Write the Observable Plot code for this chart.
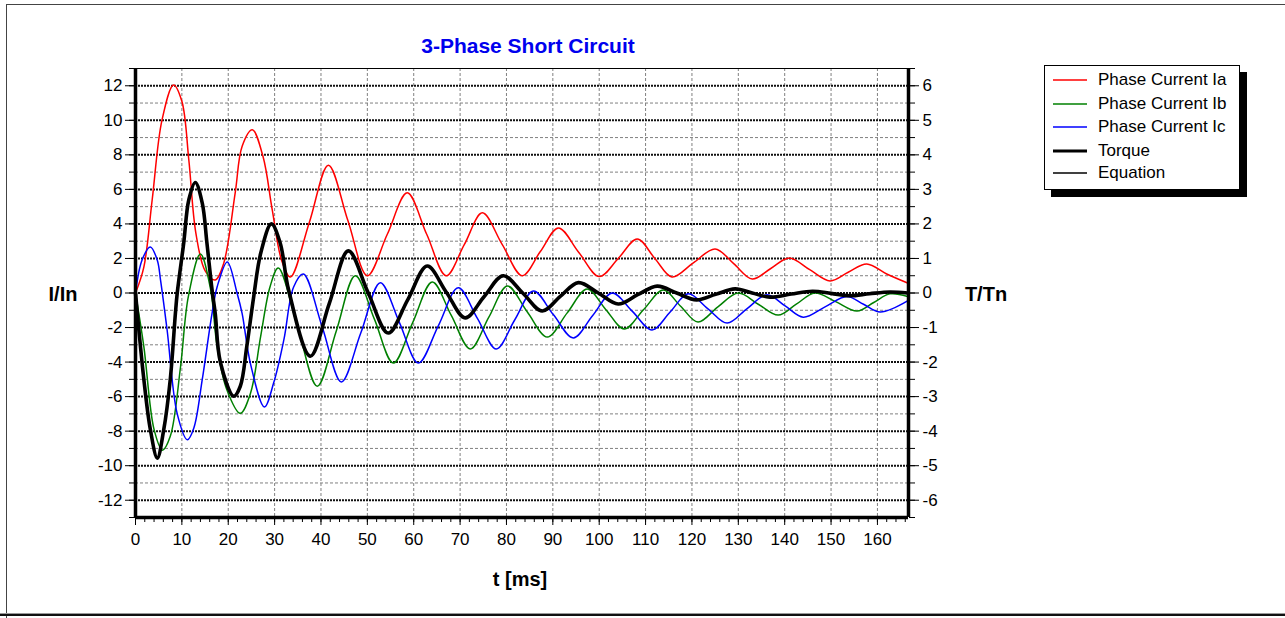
<!DOCTYPE html>
<html>
<head>
<meta charset="utf-8">
<script src="https://cdn.jsdelivr.net/npm/d3@7"></script>
<script src="https://cdn.jsdelivr.net/npm/@observablehq/plot@0.6"></script>
<style>
  html, body { margin: 0; padding: 0; background: #fff; }
  #wrap { position: relative; width: 1285px; height: 618px; overflow: hidden; font-family: "Liberation Sans", Arial, sans-serif; }
  #wrap > svg { position: absolute; left: 0; top: 0; }
  .lbl { position: absolute; font-weight: bold; color: #000; white-space: nowrap; transform: translate(-50%, -50%); }
  #title { color: #0000ee; font-size: 21px; }
  .ax { font-size: 20px; }
  #legend { position: absolute; left: 1044px; top: 65px; width: 194px; height: 123px; border: 1px solid #000; background: #fff; box-shadow: 7px 7px 0 #000; font-size: 17px; }
  #legend .row { position: absolute; left: 0; height: 20px; display: flex; align-items: center; white-space: nowrap; }
  #legend .row svg { display: block; margin-left: 8px; margin-right: 11px; }
  #frame { position: absolute; left: 6px; top: 4px; width: 1290px; height: 700px; border-left: 1px solid #444; border-top: 1px solid #444; }
  #bline1 { position: absolute; left: 0; top: 613px; width: 1285px; height: 1px; background: #999; }
  #bline2 { position: absolute; left: 0; top: 614px; width: 1285px; height: 2px; background: #111; }
</style>
</head>
<body>
<div id="wrap">
  <div id="frame"></div>
  <div id="bline1"></div>
  <div id="bline2"></div>
</div>
<script>
// ---------- data (t in ms) ----------
const iaT = [0, 1.8, 3.6, 5.7, 8.2, 10, 11.5, 13, 15, 17.2, 19, 21.5, 23, 25.2, 27.5, 29.5, 31.5, 33.4, 37.5, 41.6, 45.8, 50, 54.3, 58.6, 62.8, 67, 70.9, 74.8, 79.1, 83.4, 87.3, 91.2, 95.6, 100, 104.1, 108.2, 112, 115.7, 120.3, 125, 129, 133, 137, 141, 145.4, 149.8, 153.7, 157.7, 162, 166.5];
const iaV = [0, 1.5, 5.4, 10, 12.05, 11.1, 7.7, 3.5, 1.3, 0.75, 1.7, 5.8, 8.5, 9.45, 7.9, 4.8, 1.9, 0.93, 4.1, 7.4, 4.2, 1.0, 3.4, 5.8, 3.4, 1.0, 2.8, 4.64, 2.8, 1.0, 2.4, 3.77, 2.35, 0.95, 2.0, 3.13, 2.0, 0.93, 1.75, 2.55, 1.7, 0.81, 1.42, 2.03, 1.35, 0.7, 1.2, 1.68, 1.1, 0.58];

const ibT = [0, 1.8, 4, 5.8, 7.5, 9.7, 11.4, 14, 16.2, 17.6, 19.7, 22.6, 24.8, 27, 29, 30.8, 35, 39.2, 43.3, 47.4, 51.5, 55.6, 59.8, 64, 68.1, 72.2, 76.2, 80.2, 84.5, 88.8, 93.1, 97.4, 101.4, 105.4, 109.6, 113.8, 117.5, 121.3, 125.6, 130, 134.3, 138.6, 142.5, 146.5, 151, 155.6, 159.2, 162.7, 166.5];
const ibV = [0, -3.1, -7.9, -9.1, -8.3, -4.3, -0.2, 2.26, 0.2, -3.1, -5.6, -6.97, -5.8, -2.5, 0.35, 1.45, -2.0, -5.4, -2.2, 1.0, -1.5, -4.06, -1.7, 0.64, -1.3, -3.24, -1.4, 0.4, -1.1, -2.55, -1.15, 0.23, -0.95, -2.08, -0.95, 0.17, -0.75, -1.68, -0.8, 0, -0.65, -1.28, -0.65, 0, -0.5, -1.04, -0.55, -0.05, -0.2];

const icT = [0, 1.4, 3.2, 4.7, 5.4, 6.8, 9, 11.2, 12.6, 14.4, 16.5, 17.6, 19.8, 21.9, 23, 24.8, 27.8, 29.8, 32, 34.1, 36.2, 40.3, 44.4, 48.6, 52.8, 56.9, 61, 65.3, 69.6, 73.7, 77.8, 81.8, 85.8, 90.1, 94.4, 98.6, 102.8, 107.1, 111.4, 115.3, 119.2, 123.4, 127.6, 131.9, 136.2, 140.1, 144, 148.7, 153.4, 157, 160.6, 166.5];
const icV = [0, 1.9, 2.67, 1.9, 0.75, -2.1, -7.0, -8.5, -7.8, -5.0, -1.2, 0.35, 1.8, 0, -1.2, -4.1, -6.6, -5.2, -2.7, 0.35, 1.1, -2.0, -5.15, -2.3, 0.6, -1.7, -4.06, -1.9, 0.3, -1.45, -3.24, -1.55, 0.12, -1.25, -2.6, -1.3, 0, -1.05, -2.14, -1.1, -0.05, -0.9, -1.74, -0.9, -0.1, -0.75, -1.4, -0.8, -0.2, -0.65, -1.1, -0.46];

// torque in T/Tn (right axis)
const tqT = [0, 1.8, 3.2, 4.7, 6.1, 7.5, 8.6, 9, 10.4, 11.5, 12.9, 14.4, 15.4, 16.5, 17.2, 18.3, 21.2, 22.6, 24, 25.5, 27, 29.3, 31.2, 33, 37.7, 41.8, 45.9, 50.2, 54.5, 58.7, 62.9, 67, 71.1, 75.2, 79.3, 83.5, 87.7, 91.6, 95.5, 99.8, 104.1, 108.3, 112.5, 116.7, 121, 125.1, 129.3, 133, 136.8, 141.4, 146, 150, 154, 158.3, 162.7, 166.5];
const tqV = [0, -2.5, -3.95, -4.78, -3.95, -2.5, -0.6, 0, 1.45, 2.7, 3.2, 2.6, 1.45, 0.1, -0.6, -2.0, -2.99, -2.7, -1.55, -0.1, 1.15, 2.0, 1.45, 0.1, -1.83, -0.3, 1.22, 0, -1.16, -0.2, 0.78, 0.03, -0.72, -0.1, 0.5, 0, -0.52, -0.1, 0.3, 0, -0.32, -0.05, 0.2, 0, -0.2, -0.04, 0.12, 0, -0.12, -0.03, 0.05, -0.01, -0.08, -0.02, 0.03, 0];

const seriesNames = ["Phase Current Ia", "Phase Current Ib", "Phase Current Ic", "Torque", "Equation"];
const seriesColors = ["#ff0000", "#008000", "#0000ff", "#000000", "#000000"];
const seriesWidths = [1.5, 1.5, 1.5, 3.6, 1.3];

const xDomain = [0, 166.7];
const yDomain = [-13, 13];          // I/In
const torqueFactor = 2;              // right axis T/Tn = left / 2
const xMajor = d3.range(0, 161, 10);
const xMinor = d3.range(0, 167, 2);
const yMajor = d3.range(-12, 13, 2);
const yMinor = d3.range(-13, 14, 1);

const toRows = (ts, vs, k = 1) => ts.map((t, i) => ({t, v: vs[i] * k}));
const ia = toRows(iaT, iaV), ib = toRows(ibT, ibV), ic = toRows(icT, icV), tq = toRows(tqT, tqV, torqueFactor);
const hyphen = d => String(d);

const chart = Plot.plot({
  width: 1285,
  height: 618,
  marginLeft: 135,
  marginRight: 377,
  marginTop: 68,
  marginBottom: 101,
  style: {fontFamily: "'Liberation Sans', Arial, sans-serif", fontSize: "17px", color: "#000", background: "transparent"},
  x: {domain: xDomain, axis: null},
  y: {domain: yDomain, axis: null},
  marks: [
    // grid
    Plot.ruleX(xMajor.filter(d => d > 0), {stroke: "#808080", strokeWidth: 1, strokeDasharray: "3,2"}),
    Plot.ruleY(yMinor.filter(d => d % 2 !== 0 && d > yDomain[0] && d < yDomain[1]), {stroke: "#808080", strokeWidth: 1, strokeDasharray: "3,2"}),
    Plot.ruleY(yMajor, {stroke: "#111", strokeWidth: 2, strokeDasharray: "2,1"}),
    // axes ticks/labels
    Plot.axisY({ticks: yMinor, tickSize: 6, fill: "none", label: null}),
    Plot.axisY({ticks: yMajor, tickSize: 10, tickPadding: 3, fontSize: 17, label: null, tickFormat: hyphen}),
    Plot.axisY({anchor: "right", ticks: yMinor, tickSize: 6, fill: "none", label: null}),
    Plot.axisY({anchor: "right", ticks: yMajor, tickSize: 10, tickPadding: 4, fontSize: 17, label: null, tickFormat: d => String(d / torqueFactor)}),
    Plot.axisX({ticks: xMinor, tickSize: 5, fill: "none", label: null}),
    Plot.axisX({ticks: xMajor, tickSize: 8, tickPadding: 7, fontSize: 17, label: null, tickFormat: hyphen}),
    // series
    Plot.line(ia, {x: "t", y: "v", stroke: seriesColors[0], strokeWidth: seriesWidths[0], curve: "catmull-rom"}),
    Plot.line(ib, {x: "t", y: "v", stroke: seriesColors[1], strokeWidth: seriesWidths[1], curve: "catmull-rom"}),
    Plot.line(ic, {x: "t", y: "v", stroke: seriesColors[2], strokeWidth: seriesWidths[2], curve: "catmull-rom"}),
    Plot.line(tq, {x: "t", y: "v", stroke: seriesColors[3], strokeWidth: seriesWidths[3], curve: "catmull-rom"}),
    // plot frame
    Plot.ruleY([yDomain[1]], {stroke: "#000", strokeWidth: 1}),
    Plot.ruleY([yDomain[0]], {stroke: "#000", strokeWidth: 3.5}),
    Plot.ruleX([xDomain[0]], {stroke: "#000", strokeWidth: 3.5}),
    Plot.ruleX([xDomain[1]], {stroke: "#000", strokeWidth: 3.5})
  ]
});

const wrap = document.getElementById("wrap");
wrap.appendChild(chart);

function addLabel(id, cls, text, x, y) {
  const d = document.createElement("div");
  if (id) d.id = id;
  d.className = cls;
  d.textContent = text;
  d.style.left = x + "px";
  d.style.top = y + "px";
  wrap.appendChild(d);
}
addLabel("title", "lbl", "3-Phase Short Circuit", 528, 46);
addLabel(null, "lbl ax", "I/In", 63, 294);
addLabel(null, "lbl ax", "T/Tn", 986, 294);
addLabel(null, "lbl ax", "t [ms]", 520, 579);

// legend
const legend = document.createElement("div");
legend.id = "legend";
const rowTops = [4, 28, 51, 75, 97];
seriesNames.forEach((name, i) => {
  const r = document.createElement("div");
  r.className = "row";
  r.style.top = rowTops[i] + "px";
  r.innerHTML = `<svg width="34" height="10"><line x1="0" y1="5" x2="34" y2="5" stroke="${seriesColors[i]}" stroke-width="${i === 3 ? 3 : 1.3}"/></svg><span>${name}</span>`;
  legend.appendChild(r);
});
wrap.appendChild(legend);
</script>
</body>
</html>
